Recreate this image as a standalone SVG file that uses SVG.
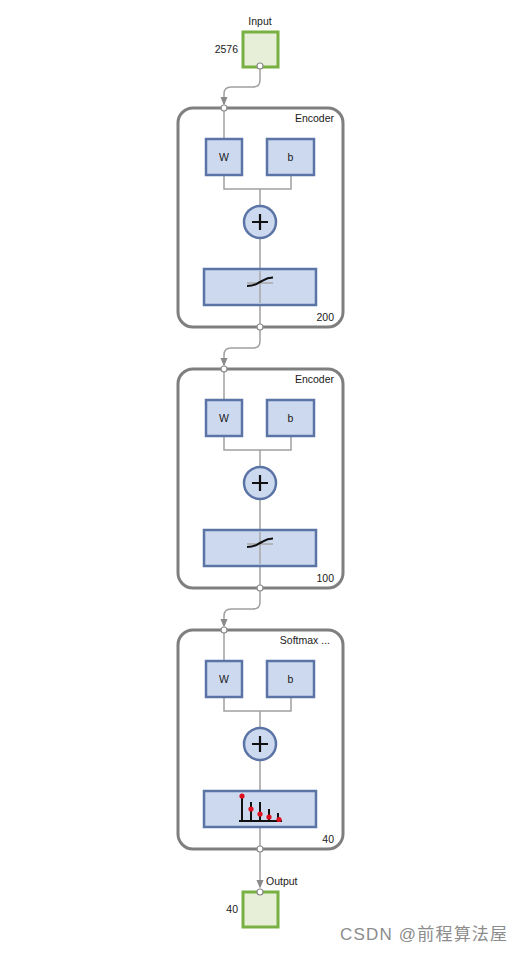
<svg xmlns="http://www.w3.org/2000/svg" width="526" height="953" viewBox="0 0 526 953">
<defs>
<style>
.lbl{font-family:"Liberation Sans",Arial,sans-serif;font-size:10.5px;fill:#1a1a1a}
.cont{fill:#ffffff;stroke:#7f7f7f;stroke-width:3}
.blk{fill:#cdd9ef;stroke:#5b74a6;stroke-width:2.5}
.io{fill:#e7efd8;stroke:#78b043;stroke-width:3}
.wire{fill:none;stroke:#a0a0a0;stroke-width:1.5}
.port{fill:#ffffff;stroke:#8a8a8a;stroke-width:1.2}
.wm{font-family:"Liberation Sans","Noto Sans CJK SC",sans-serif;font-size:17px;fill:#8c8c8c}
</style>
<marker id="arr" viewBox="0 0 6 6" refX="5" refY="3" markerWidth="6" markerHeight="6" orient="auto">
<path d="M0,0.5 L6,3 L0,5.5 z" fill="#8a8a8a"/>
</marker>
<g id="layerTpl">
<rect class="cont" x="178" y="108" width="165" height="219" rx="15"/>
<path class="wire" d="M224,108 V139"/>
<path class="wire" d="M224,175 V189 H291 V175 M260,189 V206 M260,238 V269 M260,305 V327"/>
<rect class="blk" x="206" y="139" width="36" height="36"/>
<rect class="blk" x="267" y="139" width="47" height="36"/>
<text class="lbl" x="224" y="161" text-anchor="middle">W</text>
<text class="lbl" x="290.5" y="161" text-anchor="middle">b</text>
<circle cx="260" cy="222" r="16" fill="#cdd9ef" stroke="#5b74a6" stroke-width="2.5"/>
<path d="M252,222 H268 M260,214 V230" stroke="#111" stroke-width="2.2"/>
<rect class="blk" x="204" y="269" width="112" height="36"/>
<circle class="port" cx="224" cy="108" r="3"/>
<circle class="port" cx="260" cy="327" r="3"/>
</g>
</defs>

<g id="connectors">
<path class="wire" d="M260,66 V80 Q260,87 253,87 H231 Q224,87 224,94 V104" marker-end="url(#arr)"/>
<path class="wire" d="M260,327 V341 Q260,348 253,348 H231 Q224,348 224,355 V365" marker-end="url(#arr)"/>
<path class="wire" d="M260,588 V602 Q260,609 253,609 H231 Q224,609 224,616 V626" marker-end="url(#arr)"/>
<path class="wire" d="M260,849 V887" marker-end="url(#arr)"/>
</g>

<g id="input">
<rect class="io" x="243" y="32" width="35" height="35"/>
<text class="lbl" x="260" y="25" text-anchor="middle">Input</text>
<text class="lbl" x="238" y="53" text-anchor="end">2576</text>
<circle class="port" cx="260" cy="66" r="3"/>
</g>

<g id="encoder1">
<use href="#layerTpl"/>
<text class="lbl" x="334" y="122" text-anchor="end">Encoder</text>
<text class="lbl" x="334" y="321" text-anchor="end">200</text>
<path d="M260,271 V303 M247,283 H273" stroke="#a8a8a8" stroke-width="1.5"/>
<path d="M247,286 C255,286 256,284 260,282 C264,280 266,277.5 273,277.5" fill="none" stroke="#111" stroke-width="2"/>
</g>

<g id="encoder2" transform="translate(0,261)">
<use href="#layerTpl"/>
<text class="lbl" x="334" y="122" text-anchor="end">Encoder</text>
<text class="lbl" x="334" y="321" text-anchor="end">100</text>
<path d="M260,271 V303 M247,283 H273" stroke="#a8a8a8" stroke-width="1.5"/>
<path d="M247,286 C255,286 256,284 260,282 C264,280 266,277.5 273,277.5" fill="none" stroke="#111" stroke-width="2"/>
</g>

<g id="softmax" transform="translate(0,522)">
<use href="#layerTpl"/>
<text class="lbl" x="330" y="122" text-anchor="end">Softmax ...</text>
<text class="lbl" x="334" y="321" text-anchor="end">40</text>
<path d="M239,299 H282 M242,299 V274 M251,299 V280 M260,299 V280 M269,299 V287 M278,299 V291" stroke="#111" stroke-width="2" fill="none"/>
<g fill="#e0101e">
<circle cx="242" cy="274" r="2.6"/>
<circle cx="251" cy="287" r="2.6"/>
<circle cx="260" cy="292" r="2.6"/>
<circle cx="269" cy="295" r="2.6"/>
<circle cx="279" cy="297.5" r="2.6"/>
</g>
</g>

<g id="output">
<rect class="io" x="243" y="892" width="35" height="35"/>
<text class="lbl" x="266" y="885">Output</text>
<text class="lbl" x="238" y="913" text-anchor="end">40</text>
<circle class="port" cx="260" cy="892" r="3"/>
</g>

<text class="wm" x="340" y="940" textLength="167" lengthAdjust="spacing">CSDN @前程算法屋</text>
</svg>
